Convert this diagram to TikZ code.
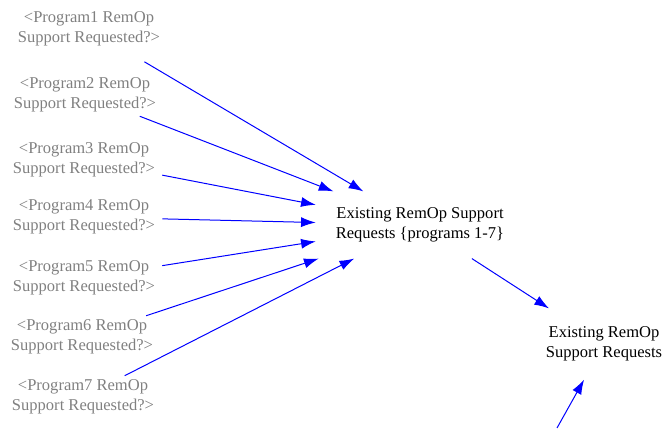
\documentclass[tikz,border=0pt]{standalone}
\usepackage{fontspec}
\setmainfont{Liberation Serif}
\usetikzlibrary{arrows.meta}
\definecolor{shadowgray}{RGB}{128,128,128}

\begin{document}
\begin{tikzpicture}[x=0.75pt, y=-0.75pt,
    font=\fontsize{12.4}{15}\selectfont,
    shadow/.style={text=shadowgray, align=center, inner sep=0pt, minimum width=117pt, minimum height=31.5pt},
    level/.style={align=center, inner sep=0pt, minimum width=156pt, minimum height=50pt},
    link/.style={draw=blue, line width=0.75pt, -{Latex[length=11pt,width=7.5pt]}}]
    \useasboundingbox (0,0) rectangle (663,431);

    \node[shadow] (p1) at (89, 29) {<Program1 RemOp\\Support Requested?>};
    \node[shadow] (p2) at (85, 95) {<Program2 RemOp\\Support Requested?>};
    \node[shadow] (p3) at (84, 160) {<Program3 RemOp\\Support Requested?>};
    \node[shadow] (p4) at (84, 217) {<Program4 RemOp\\Support Requested?>};
    \node[shadow] (p5) at (84, 278) {<Program5 RemOp\\Support Requested?>};
    \node[shadow] (p6) at (82, 337) {<Program6 RemOp\\Support Requested?>};
    \node[shadow] (p7) at (83, 397) {<Program7 RemOp\\Support Requested?>};

    \node[level] (hub) at (420, 225) {Existing RemOp Support\\Requests \{programs 1-7\}};
    \node[level, minimum width=120pt, minimum height=53pt] (total) at (604, 344) {Existing RemOp\\Support Requests};
    \coordinate (feed) at (557, 428);

    \foreach \i/\gap in {1/17pt,2/0pt,3/0pt,4/0pt,5/0pt,6/0pt,7/0pt}
        \draw[link, shorten <=\gap] (p\i) -- (hub);
    \draw[link] (hub) -- (total);
    \draw[link] (feed) -- (total);
\end{tikzpicture}
\end{document}
